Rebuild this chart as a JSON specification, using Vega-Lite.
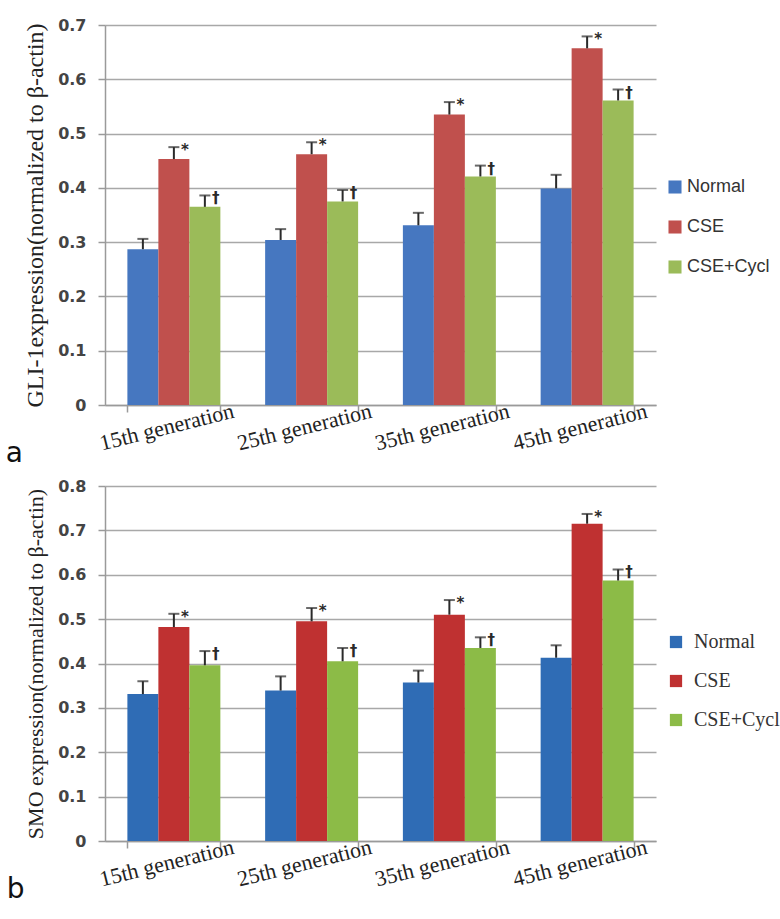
{
  "$schema": "https://vega.github.io/schema/vega-lite/v6.json",
  "background": "white",
  "padding": {"left": 5, "top": 17, "right": 5, "bottom": 5},
  "spacing": 9,
  "config": {
    "view": {"stroke": null},
    "axis": {
      "gridColor": "#a8a8a8", "gridWidth": 1.5,
      "domainColor": "#9a9a9a", "domainWidth": 1.5,
      "tickColor": "#9a9a9a", "tickWidth": 1.5
    }
  },
  "datasets": {
    "gli": [
      {"gen": "15th generation", "group": "Normal", "value": 0.287, "high": 0.306, "sig": ""},
      {"gen": "15th generation", "group": "CSE", "value": 0.453, "high": 0.475, "sig": "*"},
      {"gen": "15th generation", "group": "CSE+Cycl", "value": 0.365, "high": 0.386, "sig": "†"},
      {"gen": "25th generation", "group": "Normal", "value": 0.304, "high": 0.324, "sig": ""},
      {"gen": "25th generation", "group": "CSE", "value": 0.462, "high": 0.484, "sig": "*"},
      {"gen": "25th generation", "group": "CSE+Cycl", "value": 0.375, "high": 0.396, "sig": "†"},
      {"gen": "35th generation", "group": "Normal", "value": 0.331, "high": 0.354, "sig": ""},
      {"gen": "35th generation", "group": "CSE", "value": 0.535, "high": 0.558, "sig": "*"},
      {"gen": "35th generation", "group": "CSE+Cycl", "value": 0.421, "high": 0.441, "sig": "†"},
      {"gen": "45th generation", "group": "Normal", "value": 0.399, "high": 0.424, "sig": ""},
      {"gen": "45th generation", "group": "CSE", "value": 0.657, "high": 0.679, "sig": "*"},
      {"gen": "45th generation", "group": "CSE+Cycl", "value": 0.561, "high": 0.581, "sig": "†"}
    ],
    "smo": [
      {"gen": "15th generation", "group": "Normal", "value": 0.331, "high": 0.360, "sig": ""},
      {"gen": "15th generation", "group": "CSE", "value": 0.482, "high": 0.512, "sig": "*"},
      {"gen": "15th generation", "group": "CSE+Cycl", "value": 0.396, "high": 0.428, "sig": "†"},
      {"gen": "25th generation", "group": "Normal", "value": 0.339, "high": 0.371, "sig": ""},
      {"gen": "25th generation", "group": "CSE", "value": 0.495, "high": 0.525, "sig": "*"},
      {"gen": "25th generation", "group": "CSE+Cycl", "value": 0.405, "high": 0.435, "sig": "†"},
      {"gen": "35th generation", "group": "Normal", "value": 0.357, "high": 0.384, "sig": ""},
      {"gen": "35th generation", "group": "CSE", "value": 0.510, "high": 0.543, "sig": "*"},
      {"gen": "35th generation", "group": "CSE+Cycl", "value": 0.435, "high": 0.459, "sig": "†"},
      {"gen": "45th generation", "group": "Normal", "value": 0.413, "high": 0.441, "sig": ""},
      {"gen": "45th generation", "group": "CSE", "value": 0.715, "high": 0.737, "sig": "*"},
      {"gen": "45th generation", "group": "CSE+Cycl", "value": 0.587, "high": 0.612, "sig": "†"}
    ]
  },
  "vconcat": [
    {
      "width": 551, "height": 380,
      "data": {"name": "gli"},
      "title": {"text": "a", "orient": "bottom", "anchor": "start", "frame": "bounds", "font": "DejaVu Sans", "fontSize": 28, "fontWeight": "normal", "color": "#111", "offset": -14, "dx": -18},
      "encoding": {
        "x": {"field": "gen", "type": "nominal", "title": null,
          "scale": {"paddingInner": 0.325, "paddingOuter": 0.1625},
          "axis": {"labelAngle": -14, "labelAlign": "center", "labelBaseline": "top", "labelOffset": -10, "labelPadding": 5, "labelFont": "Liberation Serif", "labelFontSize": 22, "labelColor": "#222", "tickBand": "extent", "tickSize": 7, "grid": false}},
        "xOffset": {"field": "group", "type": "nominal", "sort": ["Normal", "CSE", "CSE+Cycl"], "scale": {"paddingInner": 0, "paddingOuter": 0}}
      },
      "layer": [
        {
          "mark": {"type": "bar"},
          "encoding": {
            "y": {"field": "value", "type": "quantitative", "title": "GLI-1expression(normalized to β-actin)",
              "scale": {"domain": [0, 0.7]},
              "axis": {"values": [0, 0.1, 0.2, 0.3, 0.4, 0.5, 0.6, 0.7], "format": "~g", "labelFont": "DejaVu Sans", "labelFontWeight": "bold", "labelFontSize": 16, "labelColor": "#444", "labelPadding": 12, "tickSize": 7, "titleFont": "Liberation Serif", "titleFontSize": 24, "titleFontWeight": "normal", "titleColor": "#222", "titlePadding": 10}},
            "color": {"field": "group", "type": "nominal", "sort": ["Normal", "CSE", "CSE+Cycl"],
              "scale": {"domain": ["Normal", "CSE", "CSE+Cycl"], "range": ["#4677c0", "#c0504d", "#9bbb59"]},
              "legend": {"title": null, "orient": "none", "legendX": 561, "legendY": 153, "symbolType": "square", "symbolSize": 170, "symbolStrokeWidth": 0, "labelFont": "Liberation Sans", "labelFontSize": 18, "labelColor": "#333", "labelOffset": 3, "rowPadding": 22}}
          }
        },
        {
          "mark": {"type": "rule", "color": "#2a2a2a", "strokeWidth": 2},
          "encoding": {"y": {"field": "value", "type": "quantitative"}, "y2": {"field": "high"}}
        },
        {
          "mark": {"type": "tick", "color": "#2a2a2a", "size": 11, "thickness": 2},
          "encoding": {"y": {"field": "high", "type": "quantitative"}}
        },
        {
          "mark": {"type": "text", "color": "#2a2a2a", "dx": 11, "dy": 3, "font": "DejaVu Sans", "fontSize": 15, "fontWeight": "bold"},
          "encoding": {"y": {"field": "high", "type": "quantitative"}, "text": {"field": "sig"}}
        }
      ]
    },
    {
      "width": 551, "height": 355,
      "data": {"name": "smo"},
      "title": {"text": "b", "orient": "bottom", "anchor": "start", "frame": "bounds", "font": "DejaVu Sans", "fontSize": 28, "fontWeight": "normal", "color": "#111", "offset": -14, "dx": -18},
      "encoding": {
        "x": {"field": "gen", "type": "nominal", "title": null,
          "scale": {"paddingInner": 0.325, "paddingOuter": 0.1625},
          "axis": {"labelAngle": -14, "labelAlign": "center", "labelBaseline": "top", "labelOffset": -10, "labelPadding": 5, "labelFont": "Liberation Serif", "labelFontSize": 22, "labelColor": "#222", "tickBand": "extent", "tickSize": 7, "grid": false}},
        "xOffset": {"field": "group", "type": "nominal", "sort": ["Normal", "CSE", "CSE+Cycl"], "scale": {"paddingInner": 0, "paddingOuter": 0}}
      },
      "layer": [
        {
          "mark": {"type": "bar"},
          "encoding": {
            "y": {"field": "value", "type": "quantitative", "title": "SMO expression(normalized to β-actin)",
              "scale": {"domain": [0, 0.8]},
              "axis": {"values": [0, 0.1, 0.2, 0.3, 0.4, 0.5, 0.6, 0.7, 0.8], "format": "~g", "labelFont": "DejaVu Sans", "labelFontWeight": "bold", "labelFontSize": 16, "labelColor": "#444", "labelPadding": 12, "tickSize": 7, "titleFont": "Liberation Serif", "titleFontSize": 22, "titleFontWeight": "normal", "titleColor": "#222", "titlePadding": 10}},
            "color": {"field": "group", "type": "nominal", "sort": ["Normal", "CSE", "CSE+Cycl"],
              "scale": {"domain": ["Normal", "CSE", "CSE+Cycl"], "range": ["#2f6cb5", "#bf3131", "#8cbb47"]},
              "legend": {"title": null, "orient": "none", "legendX": 561, "legendY": 146, "symbolType": "square", "symbolSize": 150, "symbolStrokeWidth": 0, "labelFont": "Liberation Serif", "labelFontSize": 20, "labelColor": "#333", "labelOffset": 8, "rowPadding": 19}}
          }
        },
        {
          "mark": {"type": "rule", "color": "#2a2a2a", "strokeWidth": 2},
          "encoding": {"y": {"field": "value", "type": "quantitative"}, "y2": {"field": "high"}}
        },
        {
          "mark": {"type": "tick", "color": "#2a2a2a", "size": 11, "thickness": 2},
          "encoding": {"y": {"field": "high", "type": "quantitative"}}
        },
        {
          "mark": {"type": "text", "color": "#2a2a2a", "dx": 11, "dy": 3, "font": "DejaVu Sans", "fontSize": 15, "fontWeight": "bold"},
          "encoding": {"y": {"field": "high", "type": "quantitative"}, "text": {"field": "sig"}}
        }
      ]
    }
  ],
  "resolve": {"scale": {"color": "independent"}}
}
